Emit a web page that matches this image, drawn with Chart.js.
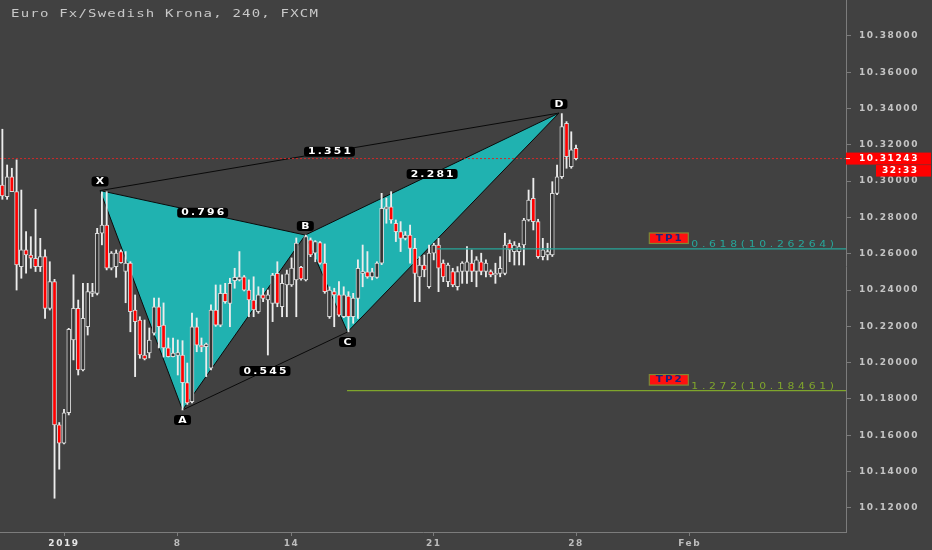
<!DOCTYPE html>
<html>
<head>
<meta charset="utf-8">
<title>Euro Fx/Swedish Krona, 240, FXCM</title>
<script src="https://cdn.jsdelivr.net/npm/chart.js@4.4.1/dist/chart.umd.min.js"></script>
<style>
  html, body { margin: 0; padding: 0; background: #414141; }
  #wrap { position: relative; width: 932px; height: 550px; }
</style>
</head>
<body>
<div id="wrap"><canvas id="chart" width="932" height="550"></canvas></div>
<script>
const TITLE = "Euro Fx/Swedish Krona, 240, FXCM";

// 4h bars, bar 0 = left edge of the picture, bar 121 = Jan 28 00:00
const opens = [
  10.2978, 10.2914, 10.3024, 10.2942, 10.2529, 10.2621, 10.2593, 10.2575, 10.2529, 10.2584,
  10.2299, 10.2446, 10.1657, 10.1556, 10.1724, 10.2125, 10.2299, 10.1960, 10.2198, 10.2382,
  10.2382, 10.2713, 10.2758, 10.2520, 10.2529, 10.2612, 10.2502, 10.2548, 10.2290, 10.2235,
  10.2042, 10.2053, 10.2163, 10.2308, 10.2207, 10.2081, 10.2033, 10.2040, 10.2042, 10.1890,
  10.1785, 10.2198, 10.2097, 10.2088, 10.1969, 10.2290, 10.2207, 10.2382, 10.2327, 10.2451,
  10.2456, 10.2473, 10.2400, 10.2345, 10.2281, 10.2373, 10.2345, 10.2327, 10.2492, 10.2308,
  10.2428, 10.2428, 10.2456, 10.2525, 10.2456, 10.2676, 10.2603, 10.2661, 10.2548, 10.2253,
  10.2391, 10.2373, 10.2253, 10.2367, 10.2253, 10.2354, 10.2492, 10.2500, 10.2472, 10.2470,
  10.2548, 10.2845, 10.2859, 10.2768, 10.2722, 10.2685, 10.2703, 10.2630, 10.2473, 10.2538,
  10.2418, 10.2603, 10.2648, 10.2548, 10.2446, 10.2502, 10.2418, 10.2502, 10.2502, 10.2548,
  10.2502, 10.2556, 10.2502, 10.2502, 10.2484, 10.2492, 10.2492, 10.2658, 10.2612, 10.2612,
  10.2648, 10.2786, 10.2905, 10.2777, 10.2584, 10.2593, 10.2593, 10.2933, 10.3024, 10.3319,
  10.3080, 10.3181
];
const highs = [
  10.3286, 10.3089, 10.3071, 10.3117, 10.2951, 10.2722, 10.2694, 10.2845, 10.2685, 10.2621,
  10.2556, 10.2459, 10.1670, 10.1743, 10.2189, 10.2484, 10.2345, 10.2437, 10.2437, 10.2437,
  10.2740, 10.2940, 10.2942, 10.2612, 10.2621, 10.2621, 10.2612, 10.2556, 10.2373, 10.2253,
  10.2235, 10.2191, 10.2356, 10.2356, 10.2329, 10.2136, 10.2136, 10.2125, 10.2121, 10.1998,
  10.2273, 10.2246, 10.2136, 10.2108, 10.2318, 10.2428, 10.2428, 10.2437, 10.2465, 10.2520,
  10.2612, 10.2480, 10.2456, 10.2473, 10.2418, 10.2410, 10.2400, 10.2492, 10.2556, 10.2484,
  10.2510, 10.2577, 10.2687, 10.2530, 10.2703, 10.2687, 10.2672, 10.2667, 10.2654, 10.2418,
  10.2410, 10.2446, 10.2418, 10.2391, 10.2382, 10.2566, 10.2648, 10.2612, 10.2520, 10.2556,
  10.2933, 10.2907, 10.2942, 10.2786, 10.2777, 10.2722, 10.2758, 10.2685, 10.2584, 10.2593,
  10.2648, 10.2658, 10.2685, 10.2566, 10.2548, 10.2520, 10.2529, 10.2556, 10.2639, 10.2621,
  10.2584, 10.2603, 10.2566, 10.2511, 10.2548, 10.2584, 10.2713, 10.2676, 10.2667, 10.2658,
  10.2795, 10.2951, 10.3016, 10.2790, 10.2685, 10.2658, 10.2997, 10.3089, 10.3372, 10.3328,
  10.3272, 10.3199
];
const lows = [
  10.2900, 10.2900, 10.2942, 10.2400, 10.2465, 10.2493, 10.2520, 10.2502, 10.2502, 10.2244,
  10.2290, 10.1253, 10.1413, 10.1552, 10.1712, 10.2015, 10.1932, 10.1955, 10.2152, 10.2364,
  10.2373, 10.2649, 10.2511, 10.2511, 10.2470, 10.2548, 10.2330, 10.2170, 10.1923, 10.2024,
  10.2015, 10.2026, 10.2152, 10.2081, 10.2031, 10.2031, 10.2031, 10.1932, 10.1739, 10.1770,
  10.1778, 10.2060, 10.2060, 10.1923, 10.1960, 10.2200, 10.2198, 10.2327, 10.2198, 10.2410,
  10.2450, 10.2395, 10.2253, 10.2253, 10.2272, 10.2336, 10.2042, 10.2226, 10.2308, 10.2253,
  10.2253, 10.2420, 10.2253, 10.2455, 10.2450, 10.2584, 10.2556, 10.2542, 10.2382, 10.2244,
  10.2198, 10.2255, 10.2248, 10.2170, 10.2217, 10.2244, 10.2418, 10.2465, 10.2456, 10.2465,
  10.2540, 10.2768, 10.2768, 10.2667, 10.2612, 10.2676, 10.2548, 10.2336, 10.2336, 10.2473,
  10.2410, 10.2566, 10.2391, 10.2446, 10.2418, 10.2418, 10.2400, 10.2437, 10.2437, 10.2446,
  10.2418, 10.2484, 10.2473, 10.2473, 10.2437, 10.2473, 10.2484, 10.2556, 10.2538, 10.2538,
  10.2538, 10.2780, 10.2731, 10.2575, 10.2566, 10.2566, 10.2585, 10.2925, 10.3015, 10.3071,
  10.3071, 10.3117
];
const closes = [
  10.2918, 10.3024, 10.2942, 10.2538, 10.2621, 10.2593, 10.2575, 10.2529, 10.2584, 10.2299,
  10.2446, 10.1657, 10.1556, 10.1724, 10.2184, 10.2299, 10.1960, 10.2244, 10.2391, 10.2391,
  10.2713, 10.2758, 10.2520, 10.2603, 10.2603, 10.2551, 10.2548, 10.2281, 10.2226, 10.2042,
  10.2020, 10.2125, 10.2308, 10.2198, 10.2081, 10.2033, 10.2053, 10.2055, 10.1890, 10.1778,
  10.2198, 10.2097, 10.2085, 10.2103, 10.2290, 10.2207, 10.2382, 10.2336, 10.2437, 10.2470,
  10.2473, 10.2400, 10.2345, 10.2290, 10.2373, 10.2354, 10.2373, 10.2483, 10.2327, 10.2437,
  10.2490, 10.2521, 10.2659, 10.2461, 10.2694, 10.2593, 10.2667, 10.2548, 10.2391, 10.2400,
  10.2373, 10.2262, 10.2373, 10.2253, 10.2356, 10.2520, 10.2502, 10.2472, 10.2500, 10.2548,
  10.2850, 10.2859, 10.2786, 10.2722, 10.2685, 10.2703, 10.2630, 10.2492, 10.2538, 10.2511,
  10.2604, 10.2648, 10.2520, 10.2473, 10.2538, 10.2428, 10.2502, 10.2548, 10.2556, 10.2502,
  10.2566, 10.2502, 10.2548, 10.2484, 10.2492, 10.2520, 10.2648, 10.2621, 10.2648, 10.2639,
  10.2786, 10.2896, 10.2777, 10.2584, 10.2621, 10.2612, 10.2933, 10.3024, 10.3300, 10.3135,
  10.3172, 10.31243
];

const xTickPos = [13, 37, 61, 91, 121, 145];
const xTickLabels = ['2019', '8', '14', '21', '28', 'Feb'];
const yTicks = [10.12, 10.14, 10.16, 10.18, 10.20, 10.22, 10.24, 10.26, 10.28, 10.30, 10.32, 10.34, 10.36, 10.38];

// XABCD pattern, anchored by bar number and price
const patternNames = ['X', 'A', 'B', 'C', 'D'];
const patternBars = [20.6, 38, 63.9, 72.8, 117.4];
const patternPrices = [10.2948, 10.1739, 10.2703, 10.2169, 10.3375];
const ratioPairs = [[0, 2], [1, 3], [0, 4], [2, 4]];
const ratioLabels = ['0.796', '0.545', '1.351', '2.281'];

const tpNames = ['TP1', 'TP2'];
const tpRatios = ['0.618', '1.272'];
const tpLevels = [10.26264, 10.18461];
const tpFromBar = [91.7, 72.7];
const tpColors = ['#26a69a', '#7fa52c'];

const lastPrice = 10.31243;
const countdown = '32:33';

const X_MIN = -0.5, X_MAX = 177.95;
const bars = opens.map((_, i) => i);
const pt = k => ({ x: patternBars[k], y: patternPrices[k] });

function roundRect(ctx, x, y, w, h, r) {
  ctx.beginPath();
  ctx.moveTo(x + r, y);
  ctx.arcTo(x + w, y, x + w, y + h, r);
  ctx.arcTo(x + w, y + h, x, y + h, r);
  ctx.arcTo(x, y + h, x, y, r);
  ctx.arcTo(x, y, x + w, y, r);
  ctx.closePath();
}

// the screenshot's lettering is wide and low, so text is stretched sideways
function textWidth(ctx, text, sx, sp) {
  ctx.letterSpacing = (sp / sx) + 'px';
  return (ctx.measureText(text).width - sp / sx) * sx;
}
function wideText(ctx, text, x, y, sx, sp) {
  ctx.save();
  ctx.letterSpacing = (sp / sx) + 'px';
  ctx.translate(x, y);
  ctx.scale(sx, 1);
  ctx.textAlign = 'left';
  ctx.fillText(text, 0, 0);
  ctx.restore();
}

// black rounded tag with white text, centred on (cx, cy)
function tag(ctx, text, cx, cy, sp, minW) {
  ctx.font = 'bold 8px "DejaVu Sans"';
  const w = textWidth(ctx, text, 1.35, sp);
  const bw = Math.max(w + 8, minW), bh = 10;
  roundRect(ctx, cx - bw / 2, cy - bh / 2, bw, bh, 3);
  ctx.fillStyle = '#000';
  ctx.fill();
  ctx.fillStyle = '#fff';
  ctx.textBaseline = 'middle';
  wideText(ctx, text, cx - w / 2, cy + 0.5, 1.35, sp);
}

const overlay = {
  id: 'overlay',
  beforeDraw(chart) {
    chart.ctx.letterSpacing = '1.6px';
  },
  afterDraw(chart) {
    const { ctx, chartArea: area, scales: { x, y } } = chart;
    ctx.save();

    // title
    ctx.font = '10px "DejaVu Sans Mono"';
    ctx.fillStyle = '#c8c8c8';
    ctx.textBaseline = 'alphabetic';
    wideText(ctx, TITLE, 11, 17, 1.4, 1.2);

    // pattern tags
    const px = patternBars.map(b => x.getPixelForValue(b));
    const py = patternPrices.map(p => y.getPixelForValue(p));
    patternNames.forEach((n, k) => {
      const below = k % 2 === 1;
      tag(ctx, n, px[k], py[k] + (below ? 10 : -9), 1, 17);
    });
    ratioPairs.forEach(([a, b], k) => {
      tag(ctx, ratioLabels[k], (px[a] + px[b]) / 2, (py[a] + py[b]) / 2, 2.2, 20);
    });

    // take profit labels
    tpLevels.forEach((lv, k) => {
      const ly = y.getPixelForValue(lv);
      const txt = tpRatios[k] + '(' + lv.toFixed(5) + ')';
      ctx.font = '9px "DejaVu Sans"';
      const w = textWidth(ctx, txt, 1.2, 3.7);
      const tx = area.right - 12 - w;
      ctx.fillStyle = tpColors[k];
      ctx.textBaseline = 'alphabetic';
      wideText(ctx, txt, tx, ly - 1.5, 1.2, 3.7);

      const bx = tx - 42, by = ly - 16;
      ctx.fillStyle = '#ff1010';
      ctx.fillRect(bx, by, 39, 10.5);
      ctx.strokeStyle = '#7d8a35';
      ctx.lineWidth = 1.2;
      ctx.strokeRect(bx, by, 39, 10.5);
      ctx.font = 'bold 8px "DejaVu Sans"';
      const nw = textWidth(ctx, tpNames[k], 1.3, 2);
      ctx.fillStyle = '#1a237e';
      ctx.textBaseline = 'middle';
      wideText(ctx, tpNames[k], bx + 19.5 - nw / 2, by + 5.8, 1.3, 2);
    });

    // last price + countdown on the price axis
    const ly = y.getPixelForValue(lastPrice);
    ctx.fillStyle = '#ff0000';
    ctx.fillRect(area.right, ly - 6, 85, 12);
    ctx.fillRect(area.right + 30, ly + 6.5, 55, 11.5);
    ctx.fillStyle = '#ffffff';
    ctx.fillRect(area.right, ly - 0.5, 4, 1);
    ctx.font = 'bold 9px "DejaVu Sans"';
    ctx.textBaseline = 'middle';
    ctx.letterSpacing = '1.6px';
    ctx.textAlign = 'left';
    ctx.fillText(lastPrice.toFixed(5), area.right + 13, ly + 0.5);
    ctx.fillText(countdown, area.right + 36, ly + 12.5);
    ctx.restore();
  }
};

const tickFont = { family: 'DejaVu Sans', size: 9, weight: 'bold' };
const axisColor = '#7c7c7c';

new Chart(document.getElementById('chart'), {
  type: 'bar',
  data: {
    datasets: [
      {
        label: 'TP1', type: 'line', order: -2,
        data: [{ x: tpFromBar[0], y: tpLevels[0] }, { x: X_MAX, y: tpLevels[0] }],
        borderColor: tpColors[0], borderWidth: 1.2, pointRadius: 0
      },
      {
        label: 'TP2', type: 'line', order: -2,
        data: [{ x: tpFromBar[1], y: tpLevels[1] }, { x: X_MAX, y: tpLevels[1] }],
        borderColor: tpColors[1], borderWidth: 1.2, pointRadius: 0
      },
      {
        label: 'body', order: 0, grouped: false, barThickness: 4,
        data: bars.map(i => ({ x: i, y: [opens[i], closes[i]] })),
        backgroundColor: bars.map(i => closes[i] >= opens[i] ? '#343434' : '#ff0000'),
        borderColor: '#d8d8d8', borderWidth: 1, borderSkipped: false
      },
      {
        label: 'wick', order: 1, grouped: false, barThickness: 1.2,
        data: bars.map(i => ({ x: i, y: [lows[i], highs[i]] })),
        backgroundColor: '#ececec'
      },
      {
        label: 'last', type: 'line', order: 2,
        data: [{ x: X_MIN, y: lastPrice }, { x: X_MAX, y: lastPrice }],
        borderColor: '#d02a2a', borderWidth: 1, borderDash: [2, 2], pointRadius: 0
      },
      {
        label: 'XAB', type: 'line', order: 3,
        data: [pt(0), pt(1), pt(2), pt(0)],
        fill: 'shape', backgroundColor: '#20b2b0',
        borderColor: '#0a0a0a', borderWidth: 1, pointRadius: 0, tension: 0
      },
      {
        label: 'BCD', type: 'line', order: 3,
        data: [pt(2), pt(3), pt(4), pt(2)],
        fill: 'shape', backgroundColor: '#20b2b0',
        borderColor: '#0a0a0a', borderWidth: 1, pointRadius: 0, tension: 0
      },
      {
        label: 'XD', type: 'line', order: 3,
        data: [pt(0), pt(4)],
        borderColor: '#0a0a0a', borderWidth: 1, pointRadius: 0
      },
      {
        label: 'AC', type: 'line', order: 3,
        data: [pt(1), pt(3)],
        borderColor: '#0a0a0a', borderWidth: 1, pointRadius: 0
      }
    ]
  },
  options: {
    responsive: false,
    animation: false,
    layout: { padding: 0 },
    plugins: { legend: { display: false }, tooltip: { enabled: false } },
    scales: {
      x: {
        type: 'linear', min: X_MIN, max: X_MAX, offset: false,
        afterBuildTicks: s => { s.ticks = xTickPos.map(v => ({ value: v })); },
        afterFit: s => { s.height = 18; s.paddingLeft = 0; s.paddingRight = 0; },
        grid: { drawOnChartArea: false, drawTicks: true, tickLength: 4, color: axisColor, offset: false },
        border: { display: true, color: axisColor, width: 1 },
        ticks: {
          autoSkip: false, maxRotation: 0, padding: 2, font: tickFont,
          color: c => c.index === 0 ? '#e6e6e6' : '#bdbdbd',
          callback: (v, i) => xTickLabels[i]
        }
      },
      y: {
        type: 'linear', position: 'right', min: 10.1067, max: 10.3998,
        afterBuildTicks: s => { s.ticks = yTicks.map(v => ({ value: v })); },
        afterFit: s => { s.width = 86; s.paddingTop = 0; s.paddingBottom = 0; },
        grid: { drawOnChartArea: false, drawTicks: true, tickLength: 5, color: axisColor },
        border: { display: true, color: axisColor, width: 1 },
        ticks: { padding: 8, font: tickFont, color: '#c4c4c4', callback: v => v.toFixed(5) }
      }
    }
  },
  plugins: [overlay]
});
</script>
</body>
</html>
